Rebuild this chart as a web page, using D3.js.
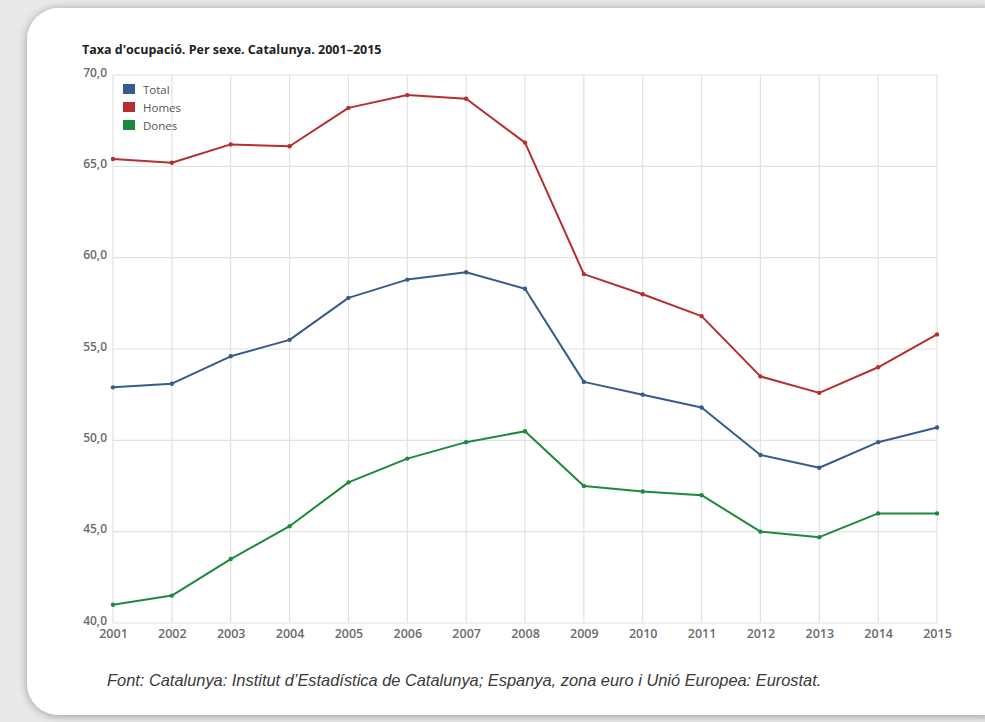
<!DOCTYPE html>
<html>
<head>
<meta charset="utf-8">
<script src="https://cdn.jsdelivr.net/npm/d3@7"></script>
<style>
  html, body { margin: 0; padding: 0; background: #e9e9e9; }
  svg { display: block; }
</style>
</head>
<body>
<svg id="chart" width="985" height="722"></svg>
<script>
// Employment rate by sex, Catalonia 2001–2015
const years = [2001, 2002, 2003, 2004, 2005, 2006, 2007, 2008, 2009, 2010, 2011, 2012, 2013, 2014, 2015];
const total = [52.9, 53.1, 54.6, 55.5, 57.8, 58.8, 59.2, 58.3, 53.2, 52.5, 51.8, 49.2, 48.5, 49.9, 50.7];
const homes = [65.4, 65.2, 66.2, 66.1, 68.2, 68.9, 68.7, 66.3, 59.1, 58.0, 56.8, 53.5, 52.6, 54.0, 55.8];
const dones = [41.0, 41.5, 43.5, 45.3, 47.7, 49.0, 49.9, 50.5, 47.5, 47.2, 47.0, 45.0, 44.7, 46.0, 46.0];
const seriesNames = ["Total", "Homes", "Dones"];
const seriesColors = ["#355c8c", "#b52f2f", "#1d8a3b"];
const yTicks = [40, 45, 50, 55, 60, 65, 70];
const title = "Taxa d'ocupació. Per sexe. Catalunya. 2001–2015";
const source = "Font: Catalunya: Institut d’Estadística de Catalunya; Espanya, zona euro i Unió Europea: Eurostat.";

const series = [total, homes, dones].map((vals, i) => ({
  name: seriesNames[i], color: seriesColors[i],
  values: vals.map((v, j) => ({ year: years[j], value: v }))
}));

const svg = d3.select("#chart");
const defs = svg.append("defs");

// soft drop shadow for the card
const f = defs.append("filter").attr("id", "shadow")
  .attr("x", "-10%").attr("y", "-10%").attr("width", "120%").attr("height", "120%");
f.append("feGaussianBlur").attr("in", "SourceAlpha").attr("stdDeviation", 5);
f.append("feOffset").attr("dx", 0).attr("dy", 1).attr("result", "blur");
f.append("feComponentTransfer").append("feFuncA").attr("type", "linear").attr("slope", 0.35);
const m = f.append("feMerge");
m.append("feMergeNode");
m.append("feMergeNode").attr("in", "SourceGraphic");

svg.append("rect").attr("x", 27).attr("y", 8).attr("width", 990).attr("height", 707)
  .attr("rx", 32).attr("ry", 32).attr("fill", "#ffffff").attr("filter", "url(#shadow)");

const margin = { left: 113, right: 937, top: 75, bottom: 623 };

const x = d3.scaleLinear().domain([years[0], years[years.length - 1]]).range([margin.left, margin.right]);
const y = d3.scaleLinear().domain([40, 70]).range([margin.bottom, margin.top]);

// grid
const grid = svg.append("g");
grid.selectAll("line.v").data(years).join("line")
  .attr("x1", d => x(d)).attr("x2", d => x(d))
  .attr("y1", margin.top).attr("y2", margin.bottom)
  .attr("stroke", "#e2e2e2").attr("stroke-width", 1.2);
grid.selectAll("line.h").data(yTicks).join("line")
  .attr("x1", margin.left).attr("x2", margin.right)
  .attr("y1", d => y(d)).attr("y2", d => y(d))
  .attr("stroke", "#e2e2e2").attr("stroke-width", 1.2);

// axes
const fmt = d => d3.format(".1f")(d).replace(".", ",");
const yAxis = svg.append("g").attr("transform", `translate(${margin.left},0)`)
  .call(d3.axisLeft(y).tickValues(yTicks).tickFormat(fmt).tickSize(0).tickPadding(6));
yAxis.select(".domain").remove();
yAxis.selectAll("text")
  .attr("dy", "0.1em")
  .style("font-family", "'Open Sans', sans-serif").style("font-size", "12px")
  .style("font-weight", "600").style("fill", "#6b6b6b");

const xAxis = svg.append("g").attr("transform", `translate(0,${margin.bottom})`)
  .call(d3.axisBottom(x).tickValues(years).tickFormat(d3.format("d")).tickSize(0).tickPadding(6));
xAxis.select(".domain").remove();
xAxis.selectAll("text")
  .style("font-family", "'Open Sans', sans-serif").style("font-size", "12.5px")
  .style("font-weight", "600").style("fill", "#6b6b6b");

// lines and markers
const line = d3.line().x(d => x(d.year)).y(d => y(d.value));
const g = svg.append("g");
series.forEach(s => {
  g.append("path").datum(s.values)
    .attr("d", line).attr("fill", "none")
    .attr("stroke", s.color).attr("stroke-width", 2).attr("stroke-linejoin", "round");
  g.selectAll(null).data(s.values).join("circle")
    .attr("cx", d => x(d.year)).attr("cy", d => y(d.value)).attr("r", 2.2)
    .attr("fill", s.color);
});

// legend
const legend = svg.append("g").attr("transform", "translate(123,84)");
series.forEach((s, i) => {
  const row = legend.append("g").attr("transform", `translate(0,${i * 18})`);
  row.append("rect").attr("width", 12).attr("height", 10).attr("fill", s.color);
  row.append("text").attr("x", 20).attr("y", 9.5).text(s.name)
    .style("font-family", "'Open Sans', sans-serif").style("font-size", "11.5px")
    .style("fill", "#555");
});

// title
svg.append("text").attr("x", 82).attr("y", 54).text(title)
  .style("font-family", "'Open Sans', sans-serif").style("font-size", "12.5px")
  .style("font-weight", "700").style("fill", "#222");

// source
svg.append("text").attr("x", 107).attr("y", 686).text(source)
  .style("font-family", "'Liberation Sans', Arial, sans-serif").style("font-size", "16.4px")
  .style("font-style", "italic").style("fill", "#3a3a3a");
</script>
</body>
</html>
